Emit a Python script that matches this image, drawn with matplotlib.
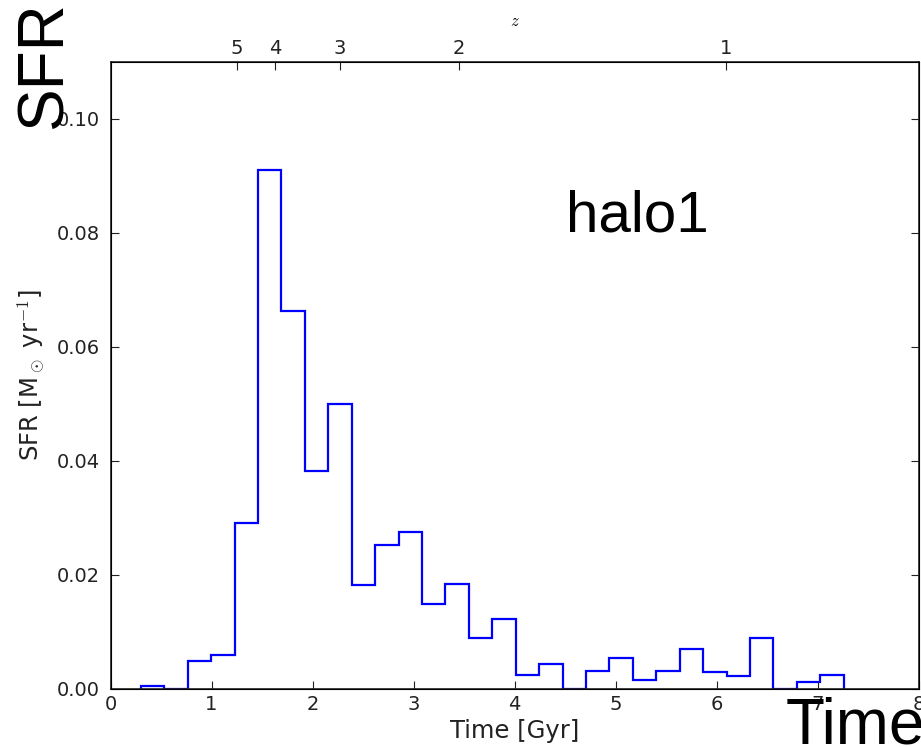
import numpy as np
import matplotlib
matplotlib.use("Agg")
import matplotlib.pyplot as plt

# Data
bin_edges_gyr = np.linspace(0.30, 7.26, 31)
sfr_values = [0.0005, 0.0, 0.0049, 0.0060, 0.0291, 0.0911, 0.0663, 0.0382,
              0.0500, 0.0183, 0.0253, 0.0275, 0.0150, 0.0184, 0.0089, 0.0122,
              0.0025, 0.0044, 0.0, 0.0032, 0.0055, 0.0016, 0.0032, 0.0071,
              0.0030, 0.0023, 0.0089, 0.0, 0.0012, 0.0025]
x_ticks = [0, 1, 2, 3, 4, 5, 6, 7, 8]
y_ticks = [0.00, 0.02, 0.04, 0.06, 0.08, 0.10]
z_tick_times = [1.25, 1.63, 2.27, 3.45, 6.09]
z_tick_labels = ['5', '4', '3', '2', '1']

plt.rcParams['mathtext.fontset'] = 'cm'
plt.rcParams['font.family'] = 'DejaVu Sans'

fig = plt.figure(figsize=(9.21, 7.47), dpi=100)
ax = fig.add_axes([110.5/921, 1-689/747, (918.5-110.5)/921, (689-62)/747])

ax.stairs(sfr_values, bin_edges_gyr, color='#0000ff', linewidth=1.6)
ax.set_xlim(0, 8)
ax.set_ylim(0, 0.11)
ax.set_xticks(x_ticks)
ax.set_yticks(y_ticks)
ax.set_yticklabels([f"{v:.2f}" for v in y_ticks])
ax.tick_params(direction='in', length=6, width=0.8, labelsize=14, pad=8,
               top=False, right=True, colors='#222222')
ax.tick_params(axis='x', pad=4)
for s in ax.spines.values():
    s.set_linewidth(1.2)
    s.set_color('#222222')
ax.set_xlabel('Time [Gyr]', fontsize=17.5, labelpad=4, color='#222222')
ax.set_ylabel(r'SFR [M$_\odot$ yr$^{-1}$]', fontsize=17.5, labelpad=7, color='#222222')

ax2 = ax.twiny()
ax2.set_xlim(0, 8)
ax2.set_xticks(z_tick_times)
ax2.set_xticklabels(z_tick_labels)
ax2.tick_params(direction='in', length=6, width=0.8, labelsize=14, pad=3, colors='#222222')
ax2.set_xlabel('$z$', fontsize=12, labelpad=9)

ax.text(4.51, 0.0803, 'halo1', fontsize=42, family='Liberation Sans',
        ha='left', va='baseline')
fig.text(15/921, 1-1/747, 'SFR', fontsize=46, family='Liberation Sans',
         rotation=90, ha='left', va='top')
fig.text(786/921, 1-696/747, 'Time', fontsize=46, family='Liberation Sans',
         ha='left', va='top')

fig.savefig('out.png', dpi=100)
